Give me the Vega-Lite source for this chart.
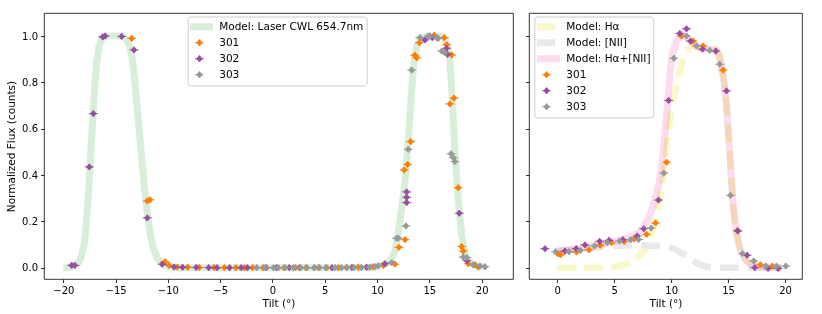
{
  "$schema": "https://vega.github.io/schema/vega-lite/v6.json",
  "background": "white",
  "padding": {"left": 6, "top": 12, "right": 0, "bottom": 0},
  "bounds": "flush",
  "spacing": 16,
  "config": {
    "view": {"stroke": "black", "strokeWidth": 0.8},
    "axis": {"domain": false, "grid": false, "tickSize": 3.5, "tickColor": "black", "tickWidth": 0.8,
      "labelFont": "DejaVu Sans", "labelFontSize": 10, "labelColor": "black", "labelPadding": 3,
      "titleFont": "DejaVu Sans", "titleFontSize": 10.5, "titleFontWeight": "normal", "titleColor": "black"}
  },
  "resolve": {"scale": {"color": "independent", "stroke": "independent", "x": "independent", "y": "independent"}, "legend": {"color": "independent"}},
  "datasets": {
    "laser": [
      {"series": "Model: Laser CWL 654.7nm", "tilt": -20.0, "flux": 0.0},
      {"series": "Model: Laser CWL 654.7nm", "tilt": -19.5, "flux": 0.001},
      {"series": "Model: Laser CWL 654.7nm", "tilt": -19.0, "flux": 0.006},
      {"series": "Model: Laser CWL 654.7nm", "tilt": -18.6, "flux": 0.02},
      {"series": "Model: Laser CWL 654.7nm", "tilt": -18.3, "flux": 0.045},
      {"series": "Model: Laser CWL 654.7nm", "tilt": -18.0, "flux": 0.1},
      {"series": "Model: Laser CWL 654.7nm", "tilt": -17.8, "flux": 0.19},
      {"series": "Model: Laser CWL 654.7nm", "tilt": -17.6, "flux": 0.32},
      {"series": "Model: Laser CWL 654.7nm", "tilt": -17.35, "flux": 0.52},
      {"series": "Model: Laser CWL 654.7nm", "tilt": -17.15, "flux": 0.67},
      {"series": "Model: Laser CWL 654.7nm", "tilt": -16.97, "flux": 0.8},
      {"series": "Model: Laser CWL 654.7nm", "tilt": -16.8, "flux": 0.89},
      {"series": "Model: Laser CWL 654.7nm", "tilt": -16.6, "flux": 0.955},
      {"series": "Model: Laser CWL 654.7nm", "tilt": -16.3, "flux": 0.99},
      {"series": "Model: Laser CWL 654.7nm", "tilt": -16.0, "flux": 1.0},
      {"series": "Model: Laser CWL 654.7nm", "tilt": -15.0, "flux": 1.0},
      {"series": "Model: Laser CWL 654.7nm", "tilt": -14.3, "flux": 1.0},
      {"series": "Model: Laser CWL 654.7nm", "tilt": -13.9, "flux": 0.98},
      {"series": "Model: Laser CWL 654.7nm", "tilt": -13.6, "flux": 0.95},
      {"series": "Model: Laser CWL 654.7nm", "tilt": -13.4, "flux": 0.9},
      {"series": "Model: Laser CWL 654.7nm", "tilt": -13.2, "flux": 0.82},
      {"series": "Model: Laser CWL 654.7nm", "tilt": -13.05, "flux": 0.75},
      {"series": "Model: Laser CWL 654.7nm", "tilt": -12.8, "flux": 0.62},
      {"series": "Model: Laser CWL 654.7nm", "tilt": -12.5, "flux": 0.47},
      {"series": "Model: Laser CWL 654.7nm", "tilt": -12.2, "flux": 0.33},
      {"series": "Model: Laser CWL 654.7nm", "tilt": -11.97, "flux": 0.237},
      {"series": "Model: Laser CWL 654.7nm", "tilt": -11.7, "flux": 0.15},
      {"series": "Model: Laser CWL 654.7nm", "tilt": -11.4, "flux": 0.085},
      {"series": "Model: Laser CWL 654.7nm", "tilt": -11.0, "flux": 0.04},
      {"series": "Model: Laser CWL 654.7nm", "tilt": -10.5, "flux": 0.015},
      {"series": "Model: Laser CWL 654.7nm", "tilt": -10.0, "flux": 0.005},
      {"series": "Model: Laser CWL 654.7nm", "tilt": -9.5, "flux": 0.001},
      {"series": "Model: Laser CWL 654.7nm", "tilt": -5.0, "flux": 0.0},
      {"series": "Model: Laser CWL 654.7nm", "tilt": 0.0, "flux": 0.0},
      {"series": "Model: Laser CWL 654.7nm", "tilt": 5.0, "flux": 0.0},
      {"series": "Model: Laser CWL 654.7nm", "tilt": 9.5, "flux": 0.001},
      {"series": "Model: Laser CWL 654.7nm", "tilt": 10.0, "flux": 0.004},
      {"series": "Model: Laser CWL 654.7nm", "tilt": 10.5, "flux": 0.01},
      {"series": "Model: Laser CWL 654.7nm", "tilt": 11.0, "flux": 0.02},
      {"series": "Model: Laser CWL 654.7nm", "tilt": 11.4, "flux": 0.04},
      {"series": "Model: Laser CWL 654.7nm", "tilt": 11.7, "flux": 0.07},
      {"series": "Model: Laser CWL 654.7nm", "tilt": 12.0, "flux": 0.14},
      {"series": "Model: Laser CWL 654.7nm", "tilt": 12.3, "flux": 0.24},
      {"series": "Model: Laser CWL 654.7nm", "tilt": 12.67, "flux": 0.37},
      {"series": "Model: Laser CWL 654.7nm", "tilt": 12.9, "flux": 0.5},
      {"series": "Model: Laser CWL 654.7nm", "tilt": 13.1, "flux": 0.62},
      {"series": "Model: Laser CWL 654.7nm", "tilt": 13.3, "flux": 0.76},
      {"series": "Model: Laser CWL 654.7nm", "tilt": 13.45, "flux": 0.85},
      {"series": "Model: Laser CWL 654.7nm", "tilt": 13.6, "flux": 0.91},
      {"series": "Model: Laser CWL 654.7nm", "tilt": 13.8, "flux": 0.955},
      {"series": "Model: Laser CWL 654.7nm", "tilt": 14.1, "flux": 0.985},
      {"series": "Model: Laser CWL 654.7nm", "tilt": 14.4, "flux": 0.995},
      {"series": "Model: Laser CWL 654.7nm", "tilt": 15.0, "flux": 1.0},
      {"series": "Model: Laser CWL 654.7nm", "tilt": 16.2, "flux": 1.0},
      {"series": "Model: Laser CWL 654.7nm", "tilt": 16.5, "flux": 0.99},
      {"series": "Model: Laser CWL 654.7nm", "tilt": 16.75, "flux": 0.95},
      {"series": "Model: Laser CWL 654.7nm", "tilt": 16.95, "flux": 0.9},
      {"series": "Model: Laser CWL 654.7nm", "tilt": 17.1, "flux": 0.8},
      {"series": "Model: Laser CWL 654.7nm", "tilt": 17.27, "flux": 0.66},
      {"series": "Model: Laser CWL 654.7nm", "tilt": 17.45, "flux": 0.5},
      {"series": "Model: Laser CWL 654.7nm", "tilt": 17.6, "flux": 0.4},
      {"series": "Model: Laser CWL 654.7nm", "tilt": 17.76, "flux": 0.3},
      {"series": "Model: Laser CWL 654.7nm", "tilt": 17.92, "flux": 0.22},
      {"series": "Model: Laser CWL 654.7nm", "tilt": 18.1, "flux": 0.14},
      {"series": "Model: Laser CWL 654.7nm", "tilt": 18.3, "flux": 0.08},
      {"series": "Model: Laser CWL 654.7nm", "tilt": 18.6, "flux": 0.04},
      {"series": "Model: Laser CWL 654.7nm", "tilt": 19.0, "flux": 0.02},
      {"series": "Model: Laser CWL 654.7nm", "tilt": 19.6, "flux": 0.008},
      {"series": "Model: Laser CWL 654.7nm", "tilt": 20.2, "flux": 0.003}
    ],
    "leftpts": [
      {"series": "301", "tilt": -13.46, "flux": 0.99},
      {"series": "301", "tilt": -11.97, "flux": 0.288},
      {"series": "301", "tilt": -11.71, "flux": 0.293},
      {"series": "301", "tilt": -10.28, "flux": 0.026},
      {"series": "301", "tilt": -9.9, "flux": 0.01},
      {"series": "301", "tilt": -9.1, "flux": 0.003},
      {"series": "301", "tilt": -8.1, "flux": 0.002},
      {"series": "301", "tilt": -7.0, "flux": 0.001},
      {"series": "301", "tilt": -5.6, "flux": 0.001},
      {"series": "301", "tilt": -4.6, "flux": 0.0},
      {"series": "301", "tilt": -3.5, "flux": 0.0},
      {"series": "301", "tilt": -2.7, "flux": 0.0},
      {"series": "301", "tilt": -1.9, "flux": 0.0},
      {"series": "301", "tilt": -0.9, "flux": 0.0},
      {"series": "301", "tilt": 1.1, "flux": 0.0},
      {"series": "301", "tilt": 2.2, "flux": 0.0},
      {"series": "301", "tilt": 3.2, "flux": 0.0},
      {"series": "301", "tilt": 4.4, "flux": 0.0},
      {"series": "301", "tilt": 5.2, "flux": 0.0},
      {"series": "301", "tilt": 6.3, "flux": 0.0},
      {"series": "301", "tilt": 7.1, "flux": 0.001},
      {"series": "301", "tilt": 8.2, "flux": 0.002},
      {"series": "301", "tilt": 9.6, "flux": 0.004},
      {"series": "301", "tilt": 10.6, "flux": 0.01},
      {"series": "301", "tilt": 11.71, "flux": 0.015},
      {"series": "301", "tilt": 12.09, "flux": 0.088},
      {"series": "301", "tilt": 12.67, "flux": 0.121},
      {"series": "301", "tilt": 12.6, "flux": 0.422},
      {"series": "301", "tilt": 12.92, "flux": 0.446},
      {"series": "301", "tilt": 13.21, "flux": 0.544},
      {"series": "301", "tilt": 13.62, "flux": 0.917},
      {"series": "301", "tilt": 13.79, "flux": 0.906},
      {"series": "301", "tilt": 14.04, "flux": 0.971},
      {"series": "301", "tilt": 15.47, "flux": 1.003},
      {"series": "301", "tilt": 16.42, "flux": 0.993},
      {"series": "301", "tilt": 16.65, "flux": 0.962},
      {"series": "301", "tilt": 17.13, "flux": 0.918},
      {"series": "301", "tilt": 16.97, "flux": 0.707},
      {"series": "301", "tilt": 17.35, "flux": 0.732},
      {"series": "301", "tilt": 17.76, "flux": 0.345},
      {"series": "301", "tilt": 18.09, "flux": 0.091},
      {"series": "301", "tilt": 18.24, "flux": 0.072},
      {"series": "301", "tilt": 18.73, "flux": 0.017},
      {"series": "301", "tilt": 19.37, "flux": 0.012},
      {"series": "301", "tilt": 19.68, "flux": 0.003},
      {"series": "302", "tilt": -19.2, "flux": 0.01},
      {"series": "302", "tilt": -18.9, "flux": 0.01},
      {"series": "302", "tilt": -17.51, "flux": 0.435},
      {"series": "302", "tilt": -17.13, "flux": 0.665},
      {"series": "302", "tilt": -16.23, "flux": 0.996},
      {"series": "302", "tilt": -16.0, "flux": 1.0},
      {"series": "302", "tilt": -14.42, "flux": 0.998},
      {"series": "302", "tilt": -13.24, "flux": 0.94},
      {"series": "302", "tilt": -11.97, "flux": 0.215},
      {"series": "302", "tilt": -10.55, "flux": 0.015},
      {"series": "302", "tilt": -9.4, "flux": 0.003},
      {"series": "302", "tilt": -8.6, "flux": 0.002},
      {"series": "302", "tilt": -7.3, "flux": 0.001},
      {"series": "302", "tilt": -6.1, "flux": 0.0},
      {"series": "302", "tilt": -5.3, "flux": 0.0},
      {"series": "302", "tilt": -4.1, "flux": 0.0},
      {"series": "302", "tilt": -3.0, "flux": 0.0},
      {"series": "302", "tilt": -2.4, "flux": 0.0},
      {"series": "302", "tilt": -0.6, "flux": 0.0},
      {"series": "302", "tilt": 0.4, "flux": 0.0},
      {"series": "302", "tilt": 1.6, "flux": 0.0},
      {"series": "302", "tilt": 2.6, "flux": 0.0},
      {"series": "302", "tilt": 4.0, "flux": 0.0},
      {"series": "302", "tilt": 5.7, "flux": 0.0},
      {"series": "302", "tilt": 7.6, "flux": 0.001},
      {"series": "302", "tilt": 9.0, "flux": 0.002},
      {"series": "302", "tilt": 10.75, "flux": 0.017},
      {"series": "302", "tilt": 12.83, "flux": 0.327},
      {"series": "302", "tilt": 12.83, "flux": 0.304},
      {"series": "302", "tilt": 12.83, "flux": 0.281},
      {"series": "302", "tilt": 14.58, "flux": 0.983},
      {"series": "302", "tilt": 15.28, "flux": 0.993},
      {"series": "302", "tilt": 16.65, "flux": 0.947},
      {"series": "302", "tilt": 16.75, "flux": 0.921},
      {"series": "302", "tilt": 17.86, "flux": 0.235},
      {"series": "302", "tilt": 18.6, "flux": 0.03},
      {"series": "303", "tilt": -1.5, "flux": 0.0},
      {"series": "303", "tilt": -0.7, "flux": 0.0},
      {"series": "303", "tilt": 0.1, "flux": 0.0},
      {"series": "303", "tilt": 0.55, "flux": 0.0},
      {"series": "303", "tilt": 1.2, "flux": 0.0},
      {"series": "303", "tilt": 2.0, "flux": 0.0},
      {"series": "303", "tilt": 2.7, "flux": 0.0},
      {"series": "303", "tilt": 3.3, "flux": 0.0},
      {"series": "303", "tilt": 4.0, "flux": 0.0},
      {"series": "303", "tilt": 4.5, "flux": 0.0},
      {"series": "303", "tilt": 5.1, "flux": 0.0},
      {"series": "303", "tilt": 6.0, "flux": 0.0},
      {"series": "303", "tilt": 6.6, "flux": 0.0},
      {"series": "303", "tilt": 7.1, "flux": 0.0},
      {"series": "303", "tilt": 7.8, "flux": 0.001},
      {"series": "303", "tilt": 8.5, "flux": 0.001},
      {"series": "303", "tilt": 9.3, "flux": 0.002},
      {"series": "303", "tilt": 9.8, "flux": 0.005},
      {"series": "303", "tilt": 10.1, "flux": 0.008},
      {"series": "303", "tilt": 11.4, "flux": 0.022},
      {"series": "303", "tilt": 11.87, "flux": 0.127},
      {"series": "303", "tilt": 12.03, "flux": 0.128},
      {"series": "303", "tilt": 12.76, "flux": 0.18},
      {"series": "303", "tilt": 12.98, "flux": 0.511},
      {"series": "303", "tilt": 13.31, "flux": 0.853},
      {"series": "303", "tilt": 14.1, "flux": 0.993},
      {"series": "303", "tilt": 14.9, "flux": 1.0},
      {"series": "303", "tilt": 15.06, "flux": 1.0},
      {"series": "303", "tilt": 15.7, "flux": 0.993},
      {"series": "303", "tilt": 15.85, "flux": 0.99},
      {"series": "303", "tilt": 16.18, "flux": 0.935},
      {"series": "303", "tilt": 16.49, "flux": 0.928},
      {"series": "303", "tilt": 17.07, "flux": 0.492},
      {"series": "303", "tilt": 17.29, "flux": 0.475},
      {"series": "303", "tilt": 17.45, "flux": 0.458},
      {"series": "303", "tilt": 18.24, "flux": 0.046},
      {"series": "303", "tilt": 18.57, "flux": 0.043},
      {"series": "303", "tilt": 19.2, "flux": 0.012},
      {"series": "303", "tilt": 19.84, "flux": 0.007},
      {"series": "303", "tilt": 20.32, "flux": 0.004}
    ],
    "ha": [
      {"series": "Model: Hα", "tilt": 0.0, "flux": 0.0},
      {"series": "Model: Hα", "tilt": 2.0, "flux": 0.0},
      {"series": "Model: Hα", "tilt": 4.0, "flux": 0.001},
      {"series": "Model: Hα", "tilt": 5.0, "flux": 0.004},
      {"series": "Model: Hα", "tilt": 5.8, "flux": 0.012},
      {"series": "Model: Hα", "tilt": 6.67, "flux": 0.029},
      {"series": "Model: Hα", "tilt": 7.3, "flux": 0.055},
      {"series": "Model: Hα", "tilt": 7.84, "flux": 0.09},
      {"series": "Model: Hα", "tilt": 8.3, "flux": 0.15},
      {"series": "Model: Hα", "tilt": 8.72, "flux": 0.216},
      {"series": "Model: Hα", "tilt": 9.16, "flux": 0.331},
      {"series": "Model: Hα", "tilt": 9.5, "flux": 0.48},
      {"series": "Model: Hα", "tilt": 9.88, "flux": 0.633},
      {"series": "Model: Hα", "tilt": 10.2, "flux": 0.73},
      {"series": "Model: Hα", "tilt": 10.6, "flux": 0.81},
      {"series": "Model: Hα", "tilt": 10.9, "flux": 0.88},
      {"series": "Model: Hα", "tilt": 11.3, "flux": 0.93},
      {"series": "Model: Hα", "tilt": 11.79, "flux": 0.96},
      {"series": "Model: Hα", "tilt": 12.3, "flux": 0.95},
      {"series": "Model: Hα", "tilt": 13.0, "flux": 0.94},
      {"series": "Model: Hα", "tilt": 13.98, "flux": 0.938},
      {"series": "Model: Hα", "tilt": 14.2, "flux": 0.915},
      {"series": "Model: Hα", "tilt": 14.42, "flux": 0.875},
      {"series": "Model: Hα", "tilt": 14.65, "flux": 0.8},
      {"series": "Model: Hα", "tilt": 14.86, "flux": 0.705},
      {"series": "Model: Hα", "tilt": 15.0, "flux": 0.6},
      {"series": "Model: Hα", "tilt": 15.15, "flux": 0.489},
      {"series": "Model: Hα", "tilt": 15.3, "flux": 0.38},
      {"series": "Model: Hα", "tilt": 15.44, "flux": 0.274},
      {"series": "Model: Hα", "tilt": 15.6, "flux": 0.2},
      {"series": "Model: Hα", "tilt": 15.79, "flux": 0.14},
      {"series": "Model: Hα", "tilt": 16.0, "flux": 0.09},
      {"series": "Model: Hα", "tilt": 16.26, "flux": 0.055},
      {"series": "Model: Hα", "tilt": 16.6, "flux": 0.03},
      {"series": "Model: Hα", "tilt": 17.05, "flux": 0.015},
      {"series": "Model: Hα", "tilt": 17.6, "flux": 0.006},
      {"series": "Model: Hα", "tilt": 18.5, "flux": 0.002},
      {"series": "Model: Hα", "tilt": 19.7, "flux": 0.0}
    ],
    "nii": [
      {"series": "Model: [NII]", "tilt": 0.0, "flux": 0.072},
      {"series": "Model: [NII]", "tilt": 1.0, "flux": 0.076},
      {"series": "Model: [NII]", "tilt": 2.0, "flux": 0.08},
      {"series": "Model: [NII]", "tilt": 3.0, "flux": 0.085},
      {"series": "Model: [NII]", "tilt": 4.0, "flux": 0.089},
      {"series": "Model: [NII]", "tilt": 5.0, "flux": 0.093},
      {"series": "Model: [NII]", "tilt": 6.0, "flux": 0.096},
      {"series": "Model: [NII]", "tilt": 7.0, "flux": 0.097},
      {"series": "Model: [NII]", "tilt": 8.0, "flux": 0.096},
      {"series": "Model: [NII]", "tilt": 8.9, "flux": 0.094},
      {"series": "Model: [NII]", "tilt": 9.5, "flux": 0.09},
      {"series": "Model: [NII]", "tilt": 10.18, "flux": 0.084},
      {"series": "Model: [NII]", "tilt": 10.7, "flux": 0.07},
      {"series": "Model: [NII]", "tilt": 11.2, "flux": 0.055},
      {"series": "Model: [NII]", "tilt": 11.64, "flux": 0.04},
      {"series": "Model: [NII]", "tilt": 12.2, "flux": 0.022},
      {"series": "Model: [NII]", "tilt": 12.8, "flux": 0.008},
      {"series": "Model: [NII]", "tilt": 13.4, "flux": 0.002},
      {"series": "Model: [NII]", "tilt": 14.0, "flux": 0.0},
      {"series": "Model: [NII]", "tilt": 19.7, "flux": 0.0}
    ],
    "sum": [
      {"series": "Model: Hα+[NII]", "tilt": 0.0, "flux": 0.072},
      {"series": "Model: Hα+[NII]", "tilt": 1.0, "flux": 0.077},
      {"series": "Model: Hα+[NII]", "tilt": 2.0, "flux": 0.085},
      {"series": "Model: Hα+[NII]", "tilt": 3.0, "flux": 0.094},
      {"series": "Model: Hα+[NII]", "tilt": 4.0, "flux": 0.103},
      {"series": "Model: Hα+[NII]", "tilt": 5.0, "flux": 0.115},
      {"series": "Model: Hα+[NII]", "tilt": 6.0, "flux": 0.126},
      {"series": "Model: Hα+[NII]", "tilt": 6.5, "flux": 0.135},
      {"series": "Model: Hα+[NII]", "tilt": 7.0, "flux": 0.148},
      {"series": "Model: Hα+[NII]", "tilt": 7.5, "flux": 0.17},
      {"series": "Model: Hα+[NII]", "tilt": 8.0, "flux": 0.21},
      {"series": "Model: Hα+[NII]", "tilt": 8.5, "flux": 0.28},
      {"series": "Model: Hα+[NII]", "tilt": 8.92, "flux": 0.36},
      {"series": "Model: Hα+[NII]", "tilt": 9.2, "flux": 0.45},
      {"series": "Model: Hα+[NII]", "tilt": 9.5, "flux": 0.6},
      {"series": "Model: Hα+[NII]", "tilt": 9.7, "flux": 0.72},
      {"series": "Model: Hα+[NII]", "tilt": 9.88, "flux": 0.83},
      {"series": "Model: Hα+[NII]", "tilt": 10.1, "flux": 0.92},
      {"series": "Model: Hα+[NII]", "tilt": 10.47, "flux": 0.978},
      {"series": "Model: Hα+[NII]", "tilt": 10.8, "flux": 1.0},
      {"series": "Model: Hα+[NII]", "tilt": 11.05, "flux": 1.005},
      {"series": "Model: Hα+[NII]", "tilt": 11.5, "flux": 0.99},
      {"series": "Model: Hα+[NII]", "tilt": 12.2, "flux": 0.957},
      {"series": "Model: Hα+[NII]", "tilt": 13.0, "flux": 0.945},
      {"series": "Model: Hα+[NII]", "tilt": 13.98, "flux": 0.94},
      {"series": "Model: Hα+[NII]", "tilt": 14.2, "flux": 0.918},
      {"series": "Model: Hα+[NII]", "tilt": 14.42, "flux": 0.878},
      {"series": "Model: Hα+[NII]", "tilt": 14.65, "flux": 0.8},
      {"series": "Model: Hα+[NII]", "tilt": 14.86, "flux": 0.705},
      {"series": "Model: Hα+[NII]", "tilt": 15.0, "flux": 0.6},
      {"series": "Model: Hα+[NII]", "tilt": 15.15, "flux": 0.489},
      {"series": "Model: Hα+[NII]", "tilt": 15.3, "flux": 0.38},
      {"series": "Model: Hα+[NII]", "tilt": 15.44, "flux": 0.274},
      {"series": "Model: Hα+[NII]", "tilt": 15.6, "flux": 0.2},
      {"series": "Model: Hα+[NII]", "tilt": 15.79, "flux": 0.14},
      {"series": "Model: Hα+[NII]", "tilt": 16.0, "flux": 0.09},
      {"series": "Model: Hα+[NII]", "tilt": 16.26, "flux": 0.055},
      {"series": "Model: Hα+[NII]", "tilt": 16.6, "flux": 0.03},
      {"series": "Model: Hα+[NII]", "tilt": 17.05, "flux": 0.015},
      {"series": "Model: Hα+[NII]", "tilt": 17.6, "flux": 0.006},
      {"series": "Model: Hα+[NII]", "tilt": 18.5, "flux": 0.002},
      {"series": "Model: Hα+[NII]", "tilt": 19.7, "flux": 0.0}
    ],
    "rightpts": [
      {"series": "301", "tilt": 0.05, "flux": 0.06},
      {"series": "301", "tilt": 0.3, "flux": 0.056},
      {"series": "301", "tilt": 1.7, "flux": 0.068},
      {"series": "301", "tilt": 2.78, "flux": 0.077},
      {"series": "301", "tilt": 3.78, "flux": 0.097},
      {"series": "301", "tilt": 4.77, "flux": 0.108},
      {"series": "301", "tilt": 5.88, "flux": 0.113},
      {"series": "301", "tilt": 6.75, "flux": 0.124},
      {"series": "301", "tilt": 7.84, "flux": 0.144},
      {"series": "301", "tilt": 8.63, "flux": 0.193},
      {"series": "301", "tilt": 9.6, "flux": 0.455},
      {"series": "301", "tilt": 10.91, "flux": 1.0},
      {"series": "301", "tilt": 11.93, "flux": 0.978},
      {"series": "301", "tilt": 12.81, "flux": 0.957},
      {"series": "301", "tilt": 14.56, "flux": 0.853},
      {"series": "301", "tilt": 15.82, "flux": 0.161},
      {"series": "301", "tilt": 17.84, "flux": 0.012},
      {"series": "301", "tilt": 18.89, "flux": 0.007},
      {"series": "302", "tilt": -1.08, "flux": 0.082},
      {"series": "302", "tilt": 0.68, "flux": 0.072},
      {"series": "302", "tilt": 1.67, "flux": 0.082},
      {"series": "302", "tilt": 2.43, "flux": 0.098},
      {"series": "302", "tilt": 3.72, "flux": 0.114},
      {"series": "302", "tilt": 4.54, "flux": 0.118},
      {"series": "302", "tilt": 5.76, "flux": 0.121},
      {"series": "302", "tilt": 7.02, "flux": 0.137},
      {"series": "302", "tilt": 7.6, "flux": 0.168},
      {"series": "302", "tilt": 8.89, "flux": 0.292},
      {"series": "302", "tilt": 9.78, "flux": 0.722},
      {"series": "302", "tilt": 10.76, "flux": 1.011},
      {"series": "302", "tilt": 11.35, "flux": 1.031},
      {"series": "302", "tilt": 11.7, "flux": 0.978},
      {"series": "302", "tilt": 12.75, "flux": 0.943},
      {"series": "302", "tilt": 13.92, "flux": 0.935},
      {"series": "302", "tilt": 14.86, "flux": 0.763},
      {"series": "302", "tilt": 15.85, "flux": 0.158},
      {"series": "302", "tilt": 16.67, "flux": 0.054},
      {"series": "302", "tilt": 17.34, "flux": 0.0},
      {"series": "302", "tilt": 18.51, "flux": -0.003},
      {"series": "302", "tilt": 19.39, "flux": -0.003},
      {"series": "303", "tilt": -0.14, "flux": 0.069},
      {"series": "303", "tilt": 1.03, "flux": 0.069},
      {"series": "303", "tilt": 2.05, "flux": 0.075},
      {"series": "303", "tilt": 3.28, "flux": 0.094},
      {"series": "303", "tilt": 4.39, "flux": 0.108},
      {"series": "303", "tilt": 5.47, "flux": 0.115},
      {"series": "303", "tilt": 6.44, "flux": 0.121},
      {"series": "303", "tilt": 7.14, "flux": 0.122},
      {"series": "303", "tilt": 8.25, "flux": 0.171},
      {"series": "303", "tilt": 9.36, "flux": 0.408},
      {"series": "303", "tilt": 10.24, "flux": 0.904},
      {"series": "303", "tilt": 11.35, "flux": 1.0},
      {"series": "303", "tilt": 12.23, "flux": 0.957},
      {"series": "303", "tilt": 13.39, "flux": 0.938},
      {"series": "303", "tilt": 14.27, "flux": 0.878},
      {"series": "303", "tilt": 15.21, "flux": 0.312},
      {"series": "303", "tilt": 16.26, "flux": 0.061},
      {"series": "303", "tilt": 17.25, "flux": 0.029},
      {"series": "303", "tilt": 18.31, "flux": 0.007},
      {"series": "303", "tilt": 19.25, "flux": 0.007},
      {"series": "303", "tilt": 20.06, "flux": 0.007}
    ]
  },
  "hconcat": [
    {
      "width": 469,
      "height": 266,
      "layer": [
        {
          "data": {"name": "laser"},
          "mark": {"type": "line", "strokeWidth": 7, "strokeCap": "butt", "strokeJoin": "round"},
          "encoding": {
            "x": {"field": "tilt", "type": "quantitative", "scale": {"domain": [-21.85, 23.0], "nice": false, "zero": false},
              "axis": {"title": "Tilt (°)", "values": [-20, -15, -10, -5, 0, 5, 10, 15, 20], "format": "d", "titlePadding": 3}},
            "y": {"field": "flux", "type": "quantitative", "scale": {"domain": [-0.0488, 1.0993], "nice": false, "zero": false},
              "axis": {"title": "Normalized Flux (counts)", "values": [0, 0.2, 0.4, 0.6, 0.8, 1.0], "format": ".1f", "titlePadding": 5}},
            "color": {"field": "series", "type": "nominal",
              "scale": {"domain": ["Model: Laser CWL 654.7nm", "301", "302", "303"], "range": ["#d9eed9", "#ff7f00", "#984ea3", "#999999"]},
              "legend": {"orient": "none", "legendX": 143.7, "legendY": 3.5, "title": null, "padding": 2.5, "rowPadding": 0, "clipHeight": 15.5,
                "symbolSize": 729, "symbolOffset": 4, "labelOffset": 14.5, "labelFont": "DejaVu Sans", "labelFontSize": 10.5, "labelColor": "black", "labelLimit": 400,
                "fillColor": "rgba(255,255,255,0.8)", "strokeColor": "#cccccc", "cornerRadius": 3,
                "encode": {"symbols": {"update": {
                  "shape": {"signal": "datum.value == 'Model: Laser CWL 654.7nm' ? 'M-1,0L1,0' : 'M-0.333,0L0.333,0M-0.2,0L0,-0.233L0.2,0L0,0.233Z'"},
                  "strokeWidth": {"signal": "datum.value == 'Model: Laser CWL 654.7nm' ? 7 : 1"},
                  "fill": {"signal": "datum.value == 'Model: Laser CWL 654.7nm' ? 'transparent' : datum.value == '301' ? '#ff7f00' : datum.value == '302' ? '#984ea3' : '#999999'"},
                  "opacity": {"value": 1}
                }}}}
            }
          }
        },
        {
          "data": {"name": "leftpts"},
          "mark": {"type": "point", "shape": "M-0.333,0L0.333,0M-0.2,0L0,-0.233L0.2,0L0,0.233Z", "filled": true, "size": 729, "strokeWidth": 1, "opacity": 1},
          "encoding": {
            "x": {"field": "tilt", "type": "quantitative"},
            "y": {"field": "flux", "type": "quantitative"},
            "color": {"field": "series", "type": "nominal"},
            "stroke": {"field": "series", "type": "nominal", "scale": {"domain": ["301", "302", "303"], "range": ["#ff7f00", "#984ea3", "#999999"]}, "legend": null}
          }
        }
      ]
    },
    {
      "width": 273,
      "height": 266,
      "layer": [
        {
          "data": {"name": "ha"},
          "mark": {"type": "line", "strokeWidth": 6.5, "strokeCap": "butt", "strokeDash": [19, 8]},
          "encoding": {
            "x": {"field": "tilt", "type": "quantitative", "scale": {"domain": [-2.48, 21.49], "nice": false, "zero": false},
              "axis": {"title": "Tilt (°)", "values": [0, 5, 10, 15, 20], "format": "d", "titlePadding": 3}},
            "y": {"field": "flux", "type": "quantitative", "scale": {"domain": [-0.0488, 1.0993], "nice": false, "zero": false},
              "axis": {"title": null, "labels": false, "values": [0, 0.2, 0.4, 0.6, 0.8, 1.0]}},
            "color": {"field": "series", "type": "nominal",
              "scale": {"domain": ["Model: Hα", "Model: [NII]", "Model: Hα+[NII]", "301", "302", "303"], "range": ["#f9f8c8", "#e9e9e9", "#fcdcee", "#ff7f00", "#984ea3", "#999999"]},
              "legend": {"orient": "none", "legendX": 5.3, "legendY": 3.5, "title": null, "padding": 2.5, "rowPadding": 0, "clipHeight": 15.5,
                "symbolSize": 729, "symbolOffset": 4.5, "labelOffset": 14.5, "labelFont": "DejaVu Sans", "labelFontSize": 10.5, "labelColor": "black", "labelLimit": 400,
                "fillColor": "rgba(255,255,255,0.8)", "strokeColor": "#cccccc", "cornerRadius": 3,
                "encode": {"symbols": {"update": {
                  "shape": {"signal": "indexof(['301','302','303'], datum.value) < 0 ? 'M-1,0L1,0' : 'M-0.333,0L0.333,0M-0.2,0L0,-0.233L0.2,0L0,0.233Z'"},
                  "strokeWidth": {"signal": "indexof(['301','302','303'], datum.value) < 0 ? 7 : 1"},
                  "strokeDash": {"signal": "datum.value == 'Model: Hα' || datum.value == 'Model: [NII]' ? [19, 9] : [1, 0]"},
                  "strokeDashOffset": {"signal": "datum.value == 'Model: Hα' || datum.value == 'Model: [NII]' ? -3 : 0"},
                  "fill": {"signal": "indexof(['301','302','303'], datum.value) < 0 ? 'transparent' : datum.value == '301' ? '#ff7f00' : datum.value == '302' ? '#984ea3' : '#999999'"},
                  "opacity": {"value": 1}
                }}}}
            }
          }
        },
        {
          "data": {"name": "nii"},
          "mark": {"type": "line", "strokeWidth": 6.5, "strokeCap": "butt", "strokeDash": [19, 9]},
          "encoding": {
            "x": {"field": "tilt", "type": "quantitative"},
            "y": {"field": "flux", "type": "quantitative"},
            "color": {"field": "series", "type": "nominal"}
          }
        },
        {
          "data": {"name": "sum"},
          "mark": {"type": "line", "strokeWidth": 7, "strokeCap": "butt", "strokeJoin": "round", "blend": "multiply"},
          "encoding": {
            "x": {"field": "tilt", "type": "quantitative"},
            "y": {"field": "flux", "type": "quantitative"},
            "color": {"field": "series", "type": "nominal"}
          }
        },
        {
          "data": {"name": "rightpts"},
          "mark": {"type": "point", "shape": "M-0.333,0L0.333,0M-0.2,0L0,-0.233L0.2,0L0,0.233Z", "filled": true, "size": 729, "strokeWidth": 1, "opacity": 1},
          "encoding": {
            "x": {"field": "tilt", "type": "quantitative"},
            "y": {"field": "flux", "type": "quantitative"},
            "color": {"field": "series", "type": "nominal"},
            "stroke": {"field": "series", "type": "nominal", "scale": {"domain": ["301", "302", "303"], "range": ["#ff7f00", "#984ea3", "#999999"]}, "legend": null}
          }
        }
      ]
    }
  ]
}
